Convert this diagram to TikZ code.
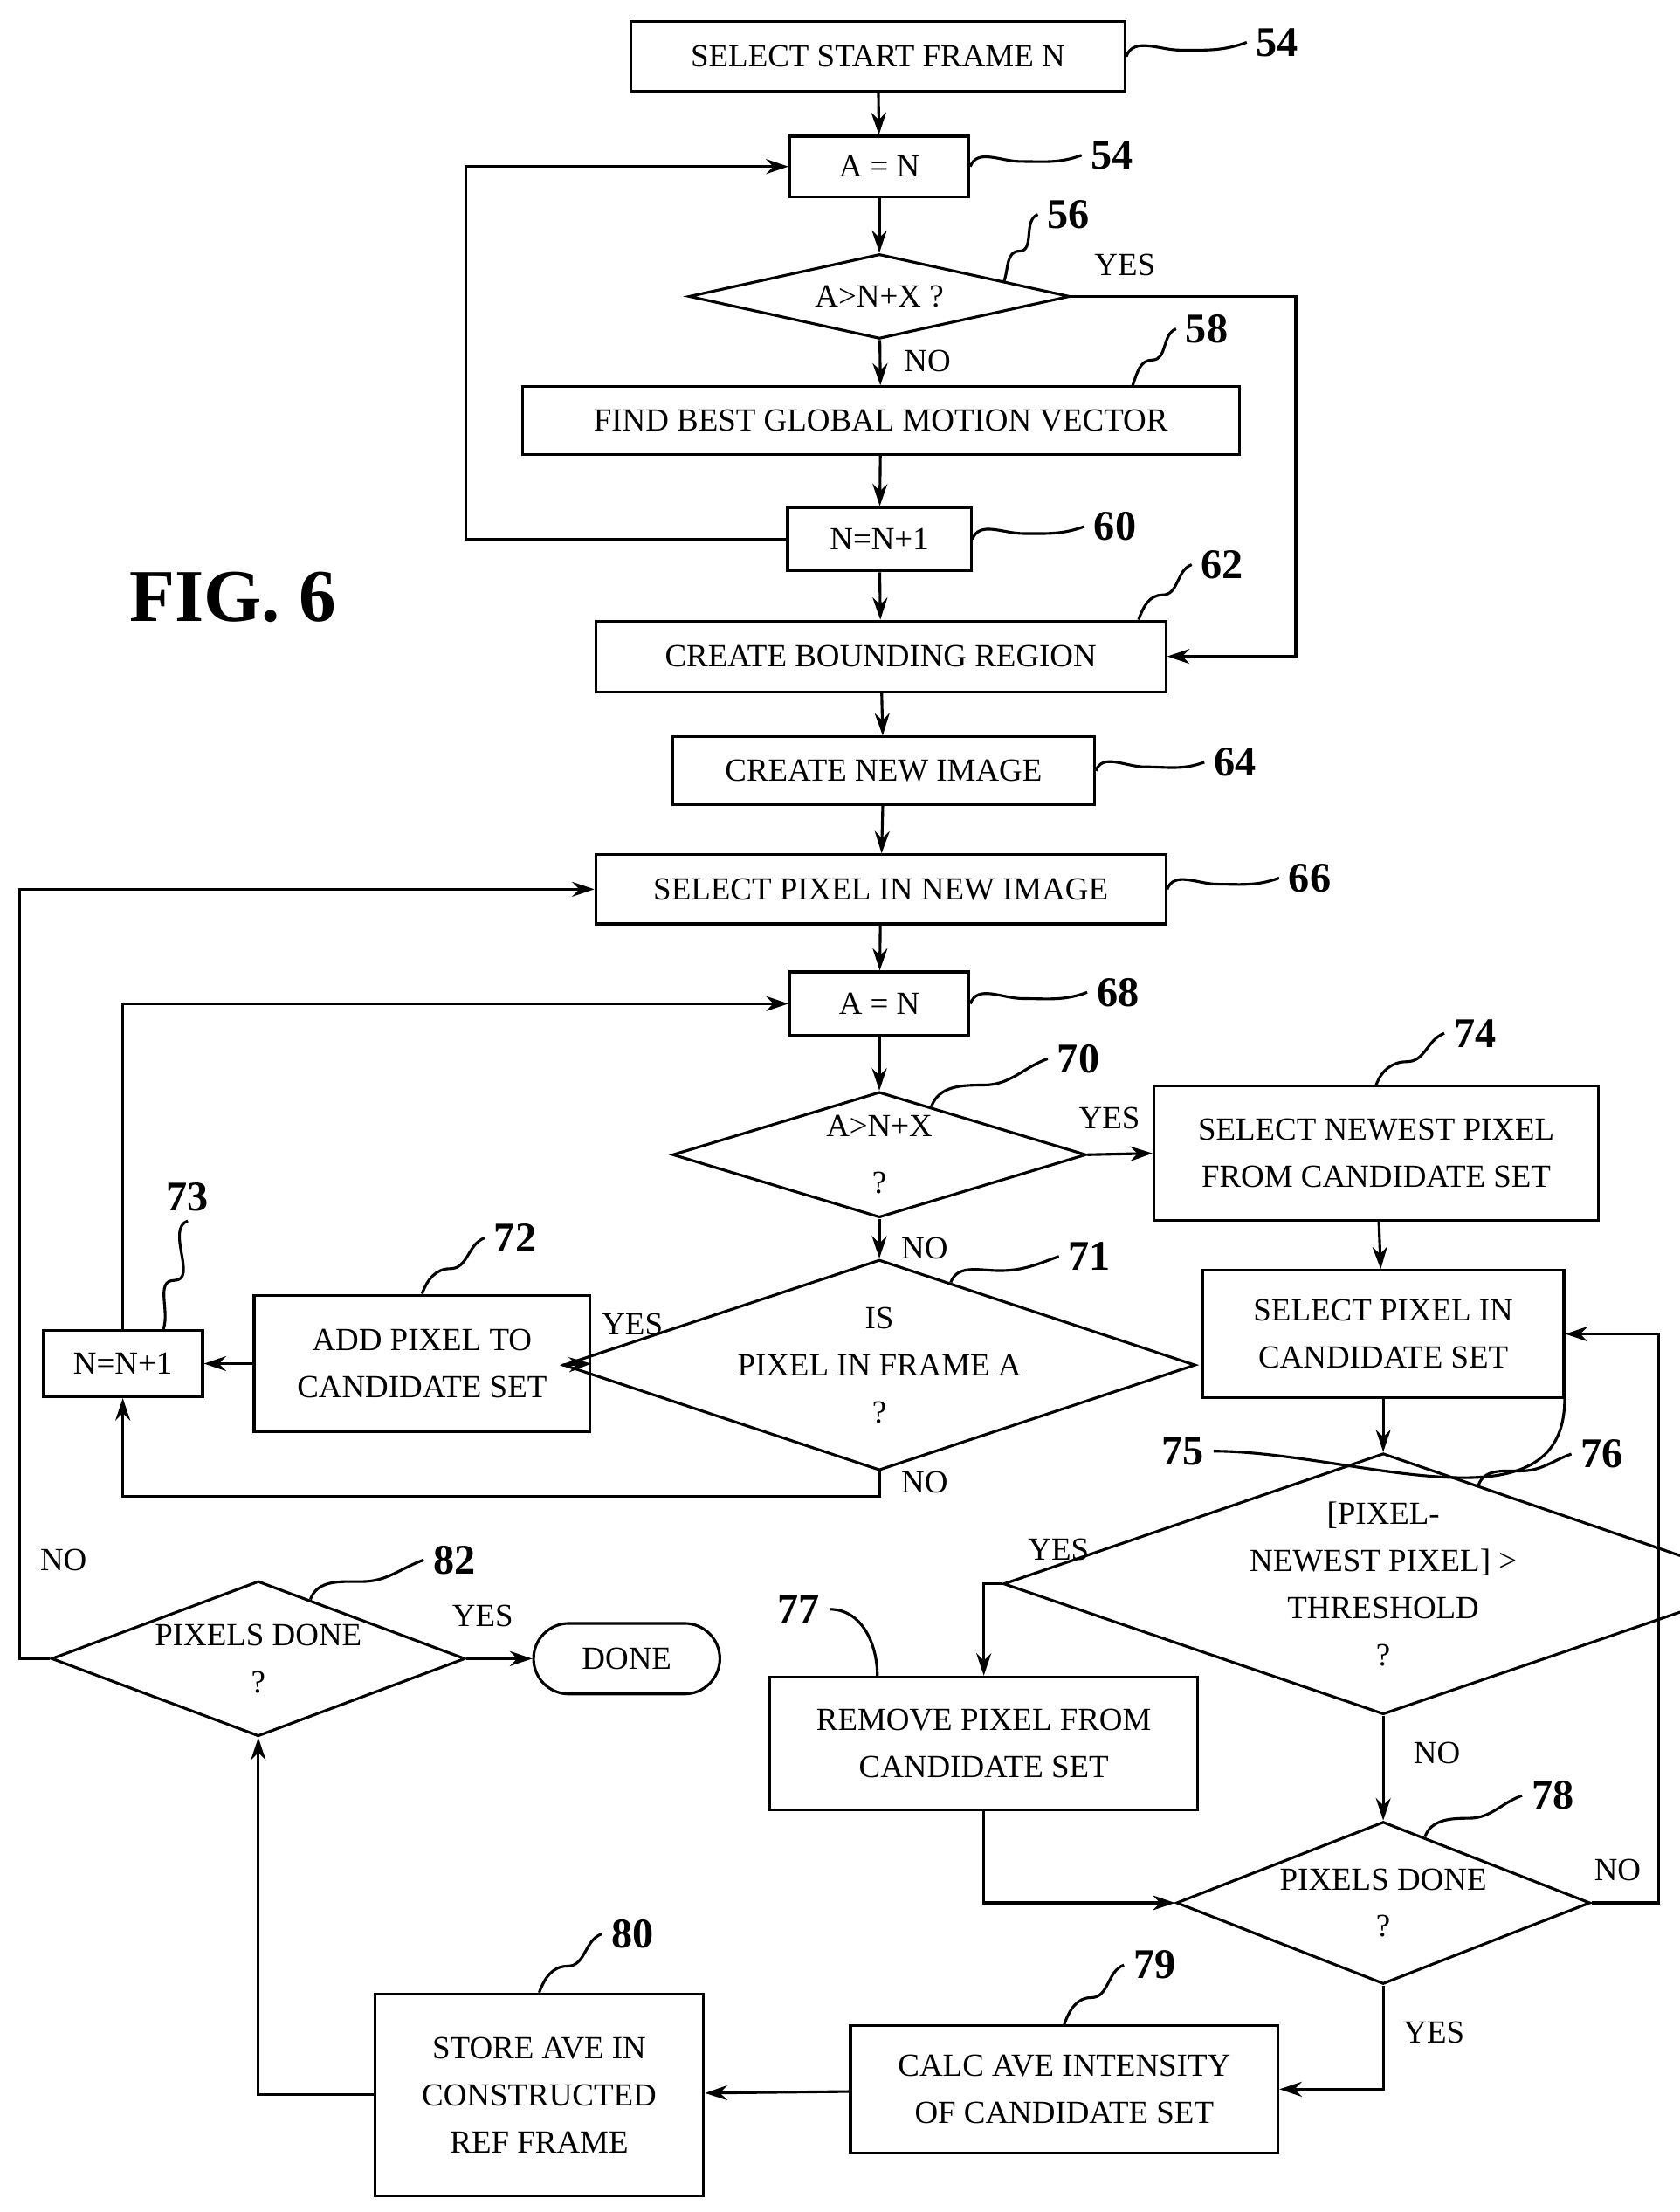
\documentclass[tikz,border=0pt]{standalone}
\usepackage{fontspec}
\setmainfont{Liberation Serif}
\usetikzlibrary{shapes.geometric,shapes.misc,arrows.meta,calc}
\tikzset{
  every path/.style={line width=1.1pt},
  box/.style={rectangle, draw, align=center, inner sep=0pt, font=\fontsize{13}{19}\selectfont},
  dec/.style={diamond, draw, align=center, inner sep=0pt, aspect=3, font=\fontsize{13}{19}\selectfont},
  term/.style={rounded rectangle, draw, inner sep=0pt, font=\fontsize{13}{19}\selectfont},
  line/.style={draw, -{Stealth[length=9pt,width=6pt]}},
  num/.style={font=\fontsize{17}{19}\selectfont\bfseries},
  lab/.style={font=\fontsize{13}{15}\selectfont},
}
% wavy reference leader
\newcommand{\lead}[2]{\draw (#1) to[out=70,in=180] ($(#1)!0.45!(#2)$) to[out=0,in=200] (#2);}
\begin{document}
\begin{tikzpicture}[x=0.02cm,y=-0.02cm]
\useasboundingbox (0,0) rectangle (1190,1567);
% upper loop
\node [box, minimum width=7cm, minimum height=1.0cm] (start) at (622,40) {SELECT START FRAME N};
\node [box, minimum width=2.54cm, minimum height=0.86cm] (a1) at (623,118) {A = N};
\node [dec, minimum width=5.4cm, minimum height=1.2cm] (d56) at (623,210) {A{\textgreater}N+X ?};
\node [box, minimum width=10.16cm, minimum height=0.96cm] (find) at (624,298) {FIND BEST GLOBAL MOTION VECTOR};
\node [box, minimum width=2.6cm, minimum height=0.9cm] (inc1) at (623,382) {N=N+1};
\node [box, minimum width=8.08cm, minimum height=1.0cm] (bound) at (624,465) {CREATE BOUNDING REGION};
\node [box, minimum width=5.98cm, minimum height=0.96cm] (newimg) at (626,546) {CREATE NEW IMAGE};
\node [box, minimum width=8.08cm, minimum height=0.98cm] (selpix) at (624,630) {SELECT PIXEL IN NEW IMAGE};
% candidate loop
\node [box, minimum width=2.54cm, minimum height=0.9cm] (a2) at (623,711) {A = N};
\node [dec, minimum width=5.86cm, minimum height=1.78cm] (d70) at (623,818) {A{\textgreater}N+X\\[4pt]?};
\node [box, minimum width=6.3cm, minimum height=1.9cm] (newest) at (975,817) {SELECT NEWEST PIXEL\\FROM CANDIDATE SET};
\node [dec, minimum width=6.86cm, minimum height=2.5cm] (d71) at (623,967) {IS\\PIXEL IN FRAME A\\?};
\node [box, minimum width=4.76cm, minimum height=1.94cm] (add) at (299,966) {ADD PIXEL TO\\CANDIDATE SET};
\node [box, minimum width=2.26cm, minimum height=0.94cm] (inc2) at (87,966) {N=N+1};
\node [box, minimum width=5.12cm, minimum height=1.8cm] (selcand) at (980,945) {SELECT PIXEL IN\\CANDIDATE SET};
\node [dec, minimum width=6.88cm, minimum height=3.7cm] (d76) at (980,1122) {[PIXEL-\\NEWEST PIXEL] {\textgreater}\\THRESHOLD\\?};
\node [box, minimum width=6.06cm, minimum height=1.88cm] (remove) at (697,1235) {REMOVE PIXEL FROM\\CANDIDATE SET};
\node [dec, minimum width=5.64cm, minimum height=2.3cm] (d78) at (980,1348) {PIXELS DONE\\?};
\node [box, minimum width=6.06cm, minimum height=1.8cm] (calc) at (754,1480) {CALC AVE INTENSITY\\OF CANDIDATE SET};
\node [box, minimum width=4.66cm, minimum height=2.86cm] (store) at (382,1484) {STORE AVE IN\\CONSTRUCTED\\REF FRAME};
\node [dec, minimum width=5.72cm, minimum height=2.2cm] (d82) at (183,1175) {PIXELS DONE\\?};
\node [term, minimum width=2.64cm, minimum height=1.0cm] (done) at (444,1175) {DONE};
\node [font=\fontsize{30}{32}\selectfont\bfseries] (fig) at (165,423) {FIG. 6};
% connectors
\path [line] (start) -- (a1);
\path [line] (a1) -- (d56);
\path [line] (d56) -- (find);
\path [line] (find) -- (inc1);
\path [line] (inc1.west) -| (330,118) -- (a1.west);
\path [line] (d56.east) -| (918,465) -- (bound.east);
\path [line] (inc1) -- (bound);
\path [line] (bound) -- (newimg);
\path [line] (newimg) -- (selpix);
\path [line] (selpix) -- (a2);
\path [line] (a2) -- (d70);
\path [line] (d70.east) -- (newest.west);
\path [line] (d70) -- (d71);
\path [line] (d71.west) -- (add.east);
\path [line] (add.west) -- (inc2.east);
\path [line] (d71.south) -- (623,1060) -| (inc2.south);
\path [line] (inc2.north) |- (a2.west);
\path [line] (newest) -- (selcand);
\path [line] (selcand) -- (d76);
\path [line] (d76.west) -| (remove.north);
\path [line] (d76) -- (d78);
\path [line] (remove.south) |- (d78.west);
\path [line] (d78.east) -| (1175,945) -- (selcand.east);
\path [line] (d78.south) |- (calc.east);
\path [line] (calc) -- (store);
\path [line] (store.west) -| (d82.south);
\path [line] (d82.east) -- (done.west);
\path [line] (d82.west) -| (14,630) -- (selpix.west);
% branch labels
\node [lab] (y56) at (797,188) {YES};
\node [lab] (n56) at (657,256) {NO};
\node [lab] (y70) at (786,792) {YES};
\node [lab] (n70) at (655,884) {NO};
\node [lab] (y71) at (448,938) {YES};
\node [lab] (n71) at (655,1050) {NO};
\node [lab] (y76) at (750,1098) {YES};
\node [lab] (n76) at (1018,1242) {NO};
\node [lab] (n78) at (1146,1325) {NO};
\node [lab] (y78) at (1016,1440) {YES};
\node [lab] (y82) at (342,1145) {YES};
\node [lab] (n82) at (45,1105) {NO};
% reference numerals
\node [num] (r54a) at (905,30) {54};
\node [num] (r54b) at (788,110) {54};
\node [num] (r56) at (757,152) {56};
\node [num] (r58) at (855,233) {58};
\node [num] (r60) at (790,373) {60};
\node [num] (r62) at (866,400) {62};
\node [num] (r64) at (875,540) {64};
\node [num] (r66) at (928,622) {66};
\node [num] (r68) at (792,703) {68};
\node [num] (r70) at (764,750) {70};
\node [num] (r74) at (1045,732) {74};
\node [num] (r72) at (365,877) {72};
\node [num] (r71) at (772,890) {71};
\node [num] (r73) at (133,848) {73};
\node [num] (r75) at (838,1028) {75};
\node [num] (r76) at (1135,1030) {76};
\node [num] (r77) at (566,1140) {77};
\node [num] (r78) at (1100,1272) {78};
\node [num] (r79) at (818,1392) {79};
\node [num] (r80) at (448,1370) {80};
\node [num] (r82) at (322,1105) {82};
\lead{start.east}{r54a.west}
\lead{a1.east}{r54b.west}
\lead{$(d56.north east)!0.3!(d56.east)$}{r56.west}
\lead{$(find.north east)!0.3!(find.north)$}{r58.west}
\lead{inc1.east}{r60.west}
\lead{$(bound.north east)!0.1!(bound.north)$}{r62.west}
\lead{newimg.east}{r64.west}
\lead{selpix.east}{r66.west}
\lead{a2.east}{r68.west}
\lead{$(d70.north east)!0.5!(d70.north)$}{r70.west}
\lead{newest.north}{r74.west}
\lead{add.north}{r72.west}
\lead{$(d71.north east)!0.55!(d71.north)$}{r71.west}
\lead{$(inc2.north east)!0.5!(inc2.north)$}{r73.south}
\draw (selcand.south east) ++(-0.4,0) to[out=-90,in=0] (r75.east);
\lead{$(d76.north east)!0.5!(d76.north)$}{r76.west}
\draw (remove.north west) ++(77,0) to[out=90,in=0] (r77.east);
\lead{$(d78.north east)!0.6!(d78.north)$}{r78.west}
\lead{calc.north}{r79.west}
\lead{store.north}{r80.west}
\lead{$(d82.north east)!0.5!(d82.north)$}{r82.west}
\end{tikzpicture}
\end{document}
